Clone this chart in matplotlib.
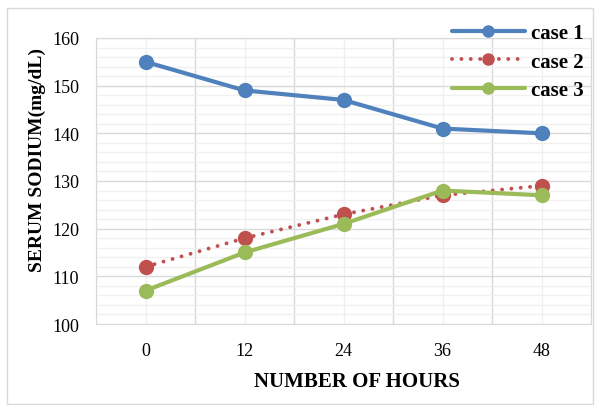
import matplotlib
matplotlib.use("Agg")
import matplotlib.pyplot as plt
from matplotlib.patches import Rectangle

hours = ["0", "12", "24", "36", "48"]
case1 = [155, 149, 147, 141, 140]
case2 = [112, 118, 123, 127, 129]
case3 = [107, 115, 121, 128, 127]

plt.rcParams["font.family"] = ["Liberation Serif", "DejaVu Serif"]

fig = plt.figure(figsize=(6, 4.06), dpi=100)
ax = fig.add_axes([0.16, 0.1995, 0.825, 0.7045])

x = list(range(len(hours)))
ax.plot(x, case1, color="#4F81BD", lw=3, marker="o", ms=10, label="case 1",
        solid_capstyle="round", zorder=3)
ax.plot(x, case2, color="#C0504D", lw=2.8, marker="o", ms=10, label="case 2",
        linestyle=(0, (0.01, 2.4)), dash_capstyle="round", zorder=3)
ax.plot(x, case3, color="#9BBB59", lw=3, marker="o", ms=10, label="case 3",
        solid_capstyle="round", zorder=4)

ax.set_xlim(-0.5, len(hours) - 0.5)
ax.set_ylim(100, 160)
ax.set_xticks([i + 0.5 for i in range(-1, len(hours))])
ax.set_xticklabels([])
ax.set_xticks(x, minor=True)
ax.set_xticklabels(hours, minor=True)
ax.set_yticks(range(100, 161, 10))
ax.set_yticks(range(100, 161, 2), minor=True)

ax.grid(which="major", color="#D9D9D9", lw=1, zorder=0)
ax.grid(which="minor", color="#F0F0F0", lw=1, zorder=0)
ax.set_axisbelow(True)
ax.tick_params(which="both", length=0, labelsize=13)
ax.tick_params(axis="x", which="minor", pad=13)
ax.tick_params(axis="y", pad=12)
for s in ax.spines.values():
    s.set_color("#D9D9D9")

fig.text(357 / 600, 1 - 382 / 406, "NUMBER OF HOURS", ha="center", va="center",
         fontsize=15, fontweight="bold")
fig.text(37 / 600, 1 - 160 / 406, "SERUM SODIUM(mg/dL)", ha="center", va="center",
         rotation=90, fontsize=14, fontweight="bold")

leg = ax.legend(loc="upper right", bbox_to_anchor=(592 / 600, 1 - 16 / 406),
                bbox_transform=fig.transFigure, frameon=False, handlelength=3.5,
                prop={"weight": "bold", "size": 15}, labelspacing=0.4,
                handletextpad=0.3, borderaxespad=0, markerscale=0.8)

fig.patches.append(Rectangle((7 / 600, 1 / 406), 1 - 14 / 600, 1 - 10 / 406,
                             transform=fig.transFigure, fill=False,
                             edgecolor="#D9D9D9", lw=1))

fig.savefig("out.png", dpi=100)
